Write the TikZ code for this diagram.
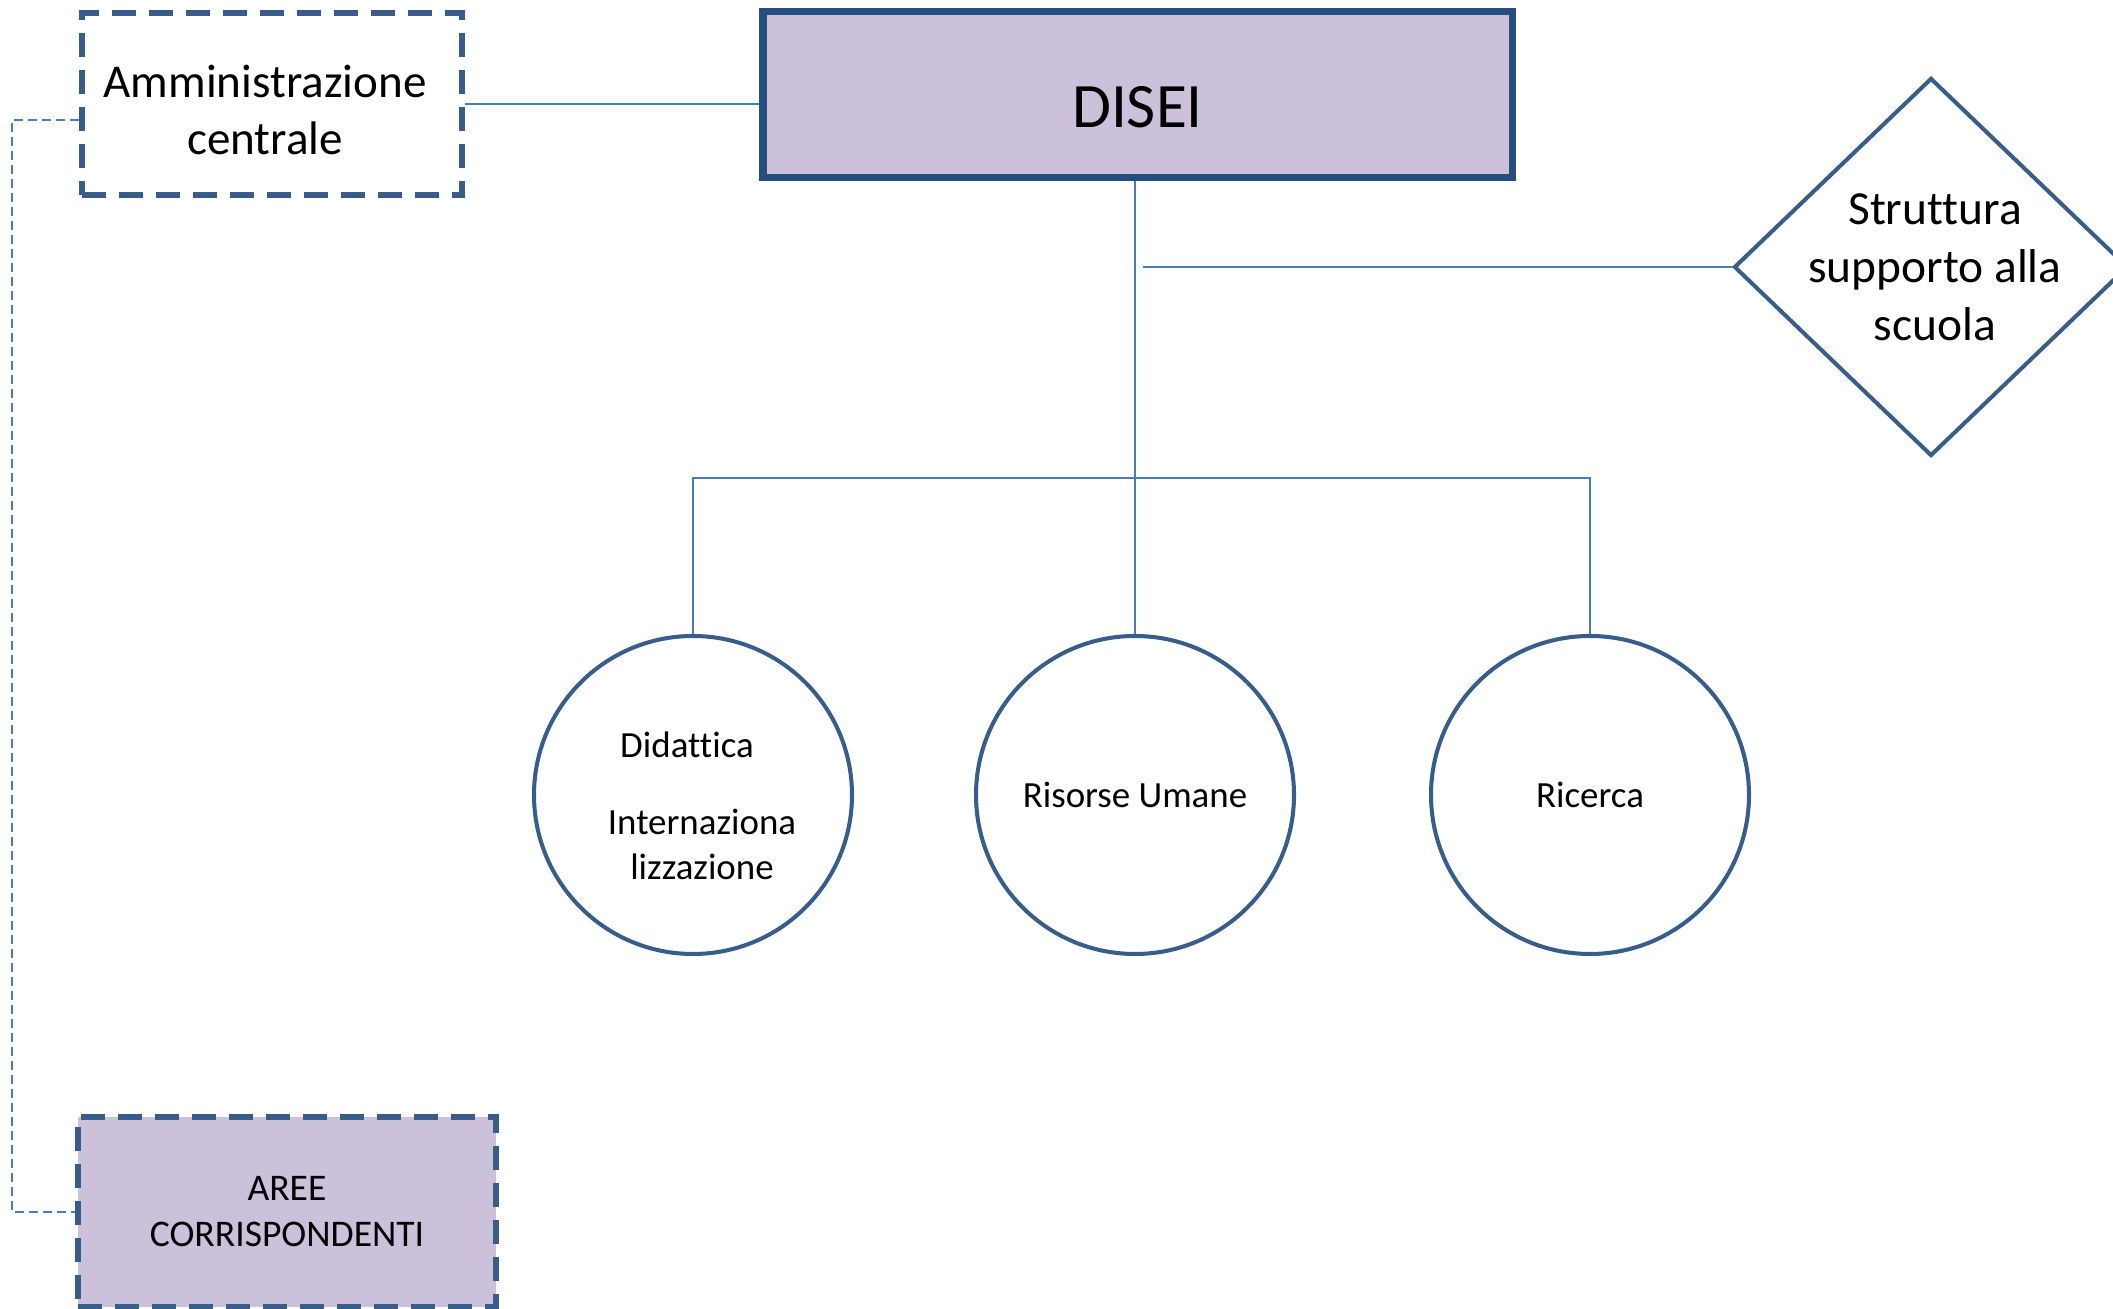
\documentclass[tikz,border=0pt]{standalone}
\usepackage{fontspec}
\setmainfont{Carlito}[Ligatures=CommonOff]
\usetikzlibrary{shapes.geometric}
\definecolor{boxblue}{HTML}{385D8A}
\definecolor{topblue}{HTML}{254E7E}
\definecolor{lineblue}{HTML}{4A7EBB}
\definecolor{lilac}{HTML}{CCC1DA}

\begin{document}
\begin{tikzpicture}[
  dashbox/.style={draw=boxblue, line width=1.5pt, dash pattern=on 0.24cm off 0.13cm, align=center, inner sep=0pt},
  unit/.style={draw=boxblue, line width=1.15pt, circle, minimum size=3.18cm, inner sep=0pt, align=center, font=\fontsize{10.5}{12.7}\selectfont},
  link/.style={draw=lineblue, line width=0.6pt},
  dotlink/.style={draw=lineblue, line width=0.5pt, dash pattern=on 0.09cm off 0.05cm}
]
\useasboundingbox (0,0) rectangle (21.13,-13.09);
\node[draw=topblue, line width=2pt, fill=lilac, minimum width=7.49cm, minimum height=1.66cm, text height=0.65cm, text depth=0pt, font=\fontsize{18}{22}\selectfont] (1) at (11.375,-0.95) {DISEI};
\node[dashbox, minimum width=3.8cm, minimum height=1.82cm, font=\fontsize{13.4}{16.2}\selectfont] (2) at (2.72,-1.04) {\rule{0pt}{0.44cm}Amministrazione\kern0.14cm\\centrale\kern0.14cm};
\node[diamond, draw=boxblue, line width=1.15pt, minimum width=3.94cm, minimum height=3.78cm, inner sep=-1cm, align=center, font=\fontsize{13.5}{16.5}\selectfont] (3) at (19.31,-2.67) {\kern0.08cm Struttura\\\kern0.08cm supporto alla\\\kern0.08cm scuola};
\node[unit] (4) at (6.93,-7.95) {\kern0.18cm\rule{0pt}{0.47cm}Didattica\kern0.3cm\\[0.33cm]\kern0.18cm Internaziona\\\kern0.18cm lizzazione};
\node[unit] (5) at (11.35,-7.95) {Risorse Umane};
\node[unit] (6) at (15.9,-7.95) {Ricerca};
\node[dashbox, fill=lilac, minimum width=4.18cm, minimum height=1.9cm, font=\fontsize{10.7}{13.1}\selectfont] (7) at (2.87,-12.12) {AREE\\CORRISPONDENTI};
\coordinate (8) at (11.35,-4.78);
\path[link] (2.east) -- (2.east -| 1.west);
\path[link] (1.south -| 8) -- (8);
\path[link] ([xshift=0.05cm]1.south |- 3.west) -- (3.west);
\path[link] (4.north) |- (8) -| (6.north);
\path[link] (8) -- (5.north);
\path[dotlink] ([yshift=-0.16cm]2.west) -| ([xshift=-0.63cm]7.west) -- (7.west);
\end{tikzpicture}
\end{document}
